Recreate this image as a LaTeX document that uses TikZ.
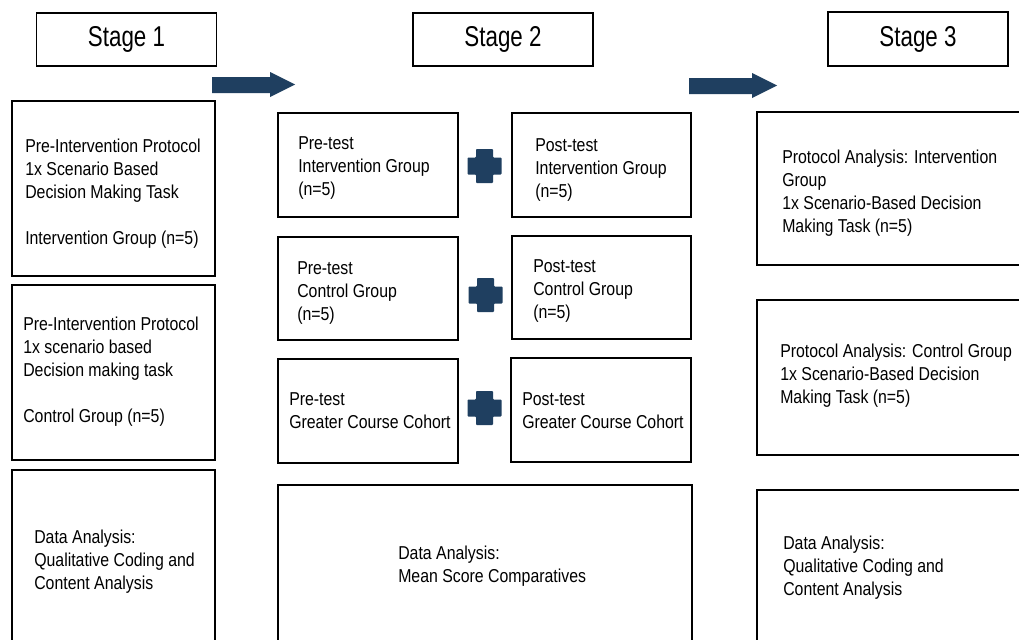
\documentclass[tikz,border=0pt]{standalone}
\usepackage{fontspec}
\setmainfont{Liberation Sans}[FakeStretch=0.85]
\newfontfamily\stagefont{Liberation Sans}[FakeStretch=0.78]
\usetikzlibrary{fit}
\definecolor{navy}{RGB}{31,63,96}
\begin{document}
\begin{tikzpicture}[x=0.75pt,y=-0.75pt,
  box/.style={draw=black, line width=1.4pt, inner sep=0pt},
  stagebox/.style={box, minimum width=135pt, minimum height=40pt, font={\stagefont\fontsize{21.5pt}{25pt}\selectfont}},
  txt/.style={anchor=west, align=left, inner sep=0pt, font={\fontsize{14pt}{17.25pt}\selectfont}},
  blockarrow/.style={fill=navy},
  plussign/.pic={\fill[navy, rounded corners=0.6pt] (-8.5,-17) -- (8.5,-17) -- (8.5,-8.5) -- (17,-8.5) -- (17,8.5) -- (8.5,8.5) -- (8.5,17) -- (-8.5,17) -- (-8.5,8.5) -- (-17,8.5) -- (-17,-8.5) -- (-8.5,-8.5) -- cycle;}
]
\path[use as bounding box] (0,0) rectangle (1019,639);
\fill[white] (0,0) rectangle (1019,639);
\clip (0,0) rectangle (1019,639);

% Stage headers
\node[stagebox] (st1) at (126.5,39.5) {Stage 1};
\node[stagebox] (st2) at (503,39.5) {Stage 2};
\node[stagebox] (st3) at (918,39) {Stage 3};

% Stage 1 column
\node[box, fit={(12,101) (215,276)}] (a1) {};
\node[box, fit={(12,285) (215,460)}] (a2) {};
\node[box, fit={(12,470) (215,660)}] (a3) {};
\node[txt] (a1t) at (25,194) {Pre-Intervention Protocol\\1x Scenario Based\\Decision Making Task\\[17.25pt]Intervention Group (n=5)};
\node[txt] (a2t) at (23,371.5) {Pre-Intervention Protocol\\1x scenario based\\Decision making task\\[17.25pt]Control Group (n=5)};
\node[txt] (a3t) at (34,562) {Data Analysis:\\Qualitative Coding and\\Content Analysis};

% Stage 2 column
\node[box, fit={(278,113) (458,217)}] (p1) {};
\node[box, fit={(512,113) (691,217)}] (q1) {};
\node[box, fit={(278,237) (458,340)}] (p2) {};
\node[box, fit={(512,236) (691,339)}] (q2) {};
\node[box, fit={(278,359) (458,463)}] (p3) {};
\node[box, fit={(511,358) (691,462)}] (q3) {};
\node[box, fit={(278,485) (692,660)}] (m) {};
\node[txt] (p1t) at (298,168) {Pre-test\\Intervention Group\\(n=5)};
\node[txt] (q1t) at (535,170) {Post-test\\Intervention Group\\(n=5)};
\node[txt] (p2t) at (297,293) {Pre-test\\Control Group\\(n=5)};
\node[txt] (q2t) at (533,291) {Post-test\\Control Group\\(n=5)};
\node[txt] (p3t) at (289,411) {Pre-test\\Greater Course Cohort};
\node[txt] (q3t) at (522,411) {Post-test\\Greater Course Cohort};
\node[txt] (mt) at (398,566) {Data Analysis:\\Mean Score Comparatives};

% plus signs
\pic at (484.5,166) {plussign};
\pic at (485.5,295) {plussign};
\pic at (484.5,408) {plussign};

% Stage 3 column
\node[box, fit={(757,112) (1035,265)}] (r1) {};
\node[box, fit={(757,300) (1035,455)}] (r2) {};
\node[box, fit={(757,490) (1035,660)}] (r3) {};
\node[txt] (r1t) at (782,193.5) {Protocol Analysis: Intervention\\Group\\1x Scenario-Based Decision\\Making Task (n=5)};
\node[txt] (r2t) at (780,375.5) {Protocol Analysis: Control Group\\1x Scenario-Based Decision\\Making Task (n=5)};
\node[txt] (r3t) at (783,568) {Data Analysis:\\Qualitative Coding and\\Content Analysis};

% block arrows between stages
\fill[blockarrow] (212,77) -- (270,77) -- (270,72) -- (295,84.5) -- (270,97) -- (270,93) -- (212,93) -- cycle;
\fill[blockarrow] (689,78) -- (752,78) -- (752,73) -- (777,85.5) -- (752,98) -- (752,94) -- (689,94) -- cycle;
\end{tikzpicture}
\end{document}
